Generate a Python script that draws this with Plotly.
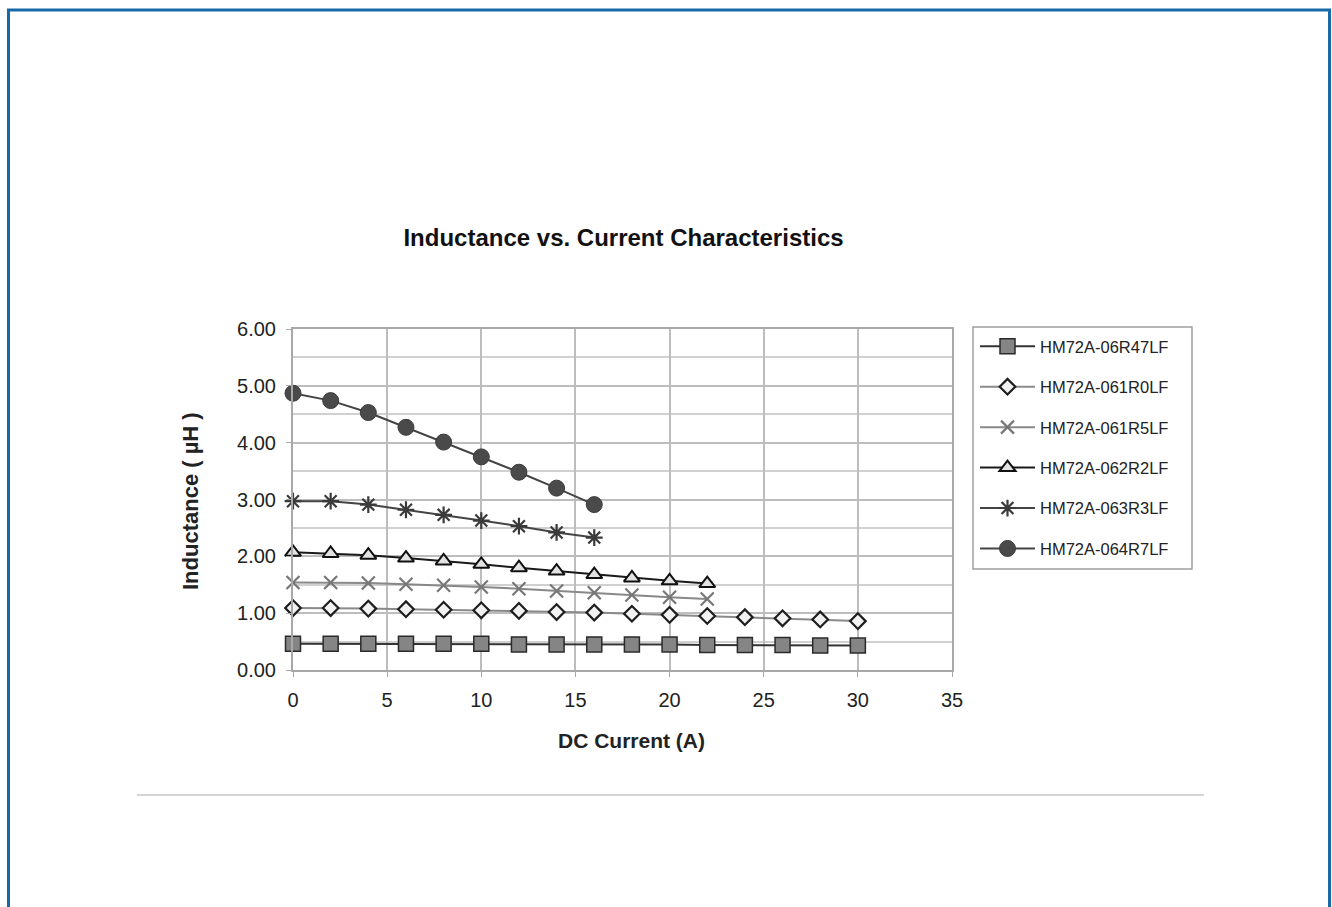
import plotly.graph_objects as go

# ---------------- data ----------------
current_a = [0, 2, 4, 6, 8, 10, 12, 14, 16, 18, 20, 22, 24, 26, 28, 30]

names = ["HM72A-06R47LF", "HM72A-061R0LF", "HM72A-061R5LF",
         "HM72A-062R2LF", "HM72A-063R3LF", "HM72A-064R7LF"]

l_06r47 = [0.46, 0.46, 0.46, 0.46, 0.46, 0.46, 0.45, 0.45, 0.45, 0.45, 0.45, 0.44, 0.44, 0.44, 0.43, 0.43]
l_061r0 = [1.09, 1.09, 1.08, 1.07, 1.06, 1.05, 1.04, 1.02, 1.01, 0.99, 0.97, 0.95, 0.93, 0.91, 0.89, 0.86]
l_061r5 = [1.54, 1.54, 1.53, 1.51, 1.49, 1.46, 1.43, 1.39, 1.36, 1.32, 1.28, 1.25]
l_062r2 = [2.07, 2.05, 2.02, 1.97, 1.92, 1.86, 1.80, 1.74, 1.68, 1.62, 1.57, 1.52]
l_063r3 = [2.97, 2.97, 2.91, 2.82, 2.73, 2.63, 2.53, 2.42, 2.33]
l_064r7 = [4.87, 4.74, 4.53, 4.27, 4.01, 3.75, 3.48, 3.20, 2.91]

title_text = "Inductance vs. Current Characteristics"
x_title = "DC Current (A)"
y_title = "Inductance ( µH )"

# ---------------- layout geometry (pixels) ----------------
W, H = 1332, 907
PL, PR, PT, PB = 293, 952, 329, 670   # plot-area edges


def px(xp):
    return (xp - PL) / (PR - PL)


def py(yp):
    return (PB - yp) / (PB - PT)


FONT = "Liberation Sans, Arial, sans-serif"

styles = [
    dict(line=dict(color="#333333", width=2),
         marker=dict(symbol="square", size=15, color="#858585",
                     line=dict(color="#2a2a2a", width=1.5))),
    dict(line=dict(color="#8a8a8a", width=2),
         marker=dict(symbol="diamond", size=12, color="#f2f2f2",
                     line=dict(color="#1e1e1e", width=2.2))),
    dict(line=dict(color="#888888", width=2),
         marker=dict(symbol="x-thin", size=13,
                     line=dict(color="#777777", width=2.2))),
    dict(line=dict(color="#1a1a1a", width=2),
         marker=dict(symbol="triangle-up", size=14, color="#e2e2e2",
                     line=dict(color="#111111", width=2))),
    dict(line=dict(color="#444444", width=2),
         marker=dict(symbol="asterisk", size=14,
                     line=dict(color="#3a3a3a", width=2.2))),
    dict(line=dict(color="#444444", width=2),
         marker=dict(symbol="circle", size=16, color="#4a4a4a",
                     line=dict(color="#3c3c3c", width=1))),
]

series = [l_06r47, l_061r0, l_061r5, l_062r2, l_063r3, l_064r7]

fig = go.Figure()
for name, vals, st in zip(names, series, styles):
    fig.add_trace(go.Scatter(
        x=current_a[:len(vals)], y=vals, name=name, mode="lines+markers",
        legendgroup=name, cliponaxis=False, **st))

grid_c = "#bdbdbd"
axis_c = "#a8a8a8"

fig.update_layout(
    width=W, height=H,
    margin=dict(l=PL, r=W - PR, t=PT, b=H - PB, pad=0),
    paper_bgcolor="white", plot_bgcolor="white",
    font=dict(family=FONT, color="#222222"),
    title=dict(text="<b>" + title_text + "</b>", x=623.5 / W, xanchor="center",
               y=1 - 238 / H, yanchor="middle",
               font=dict(family=FONT, size=24, color="#111111")),
    showlegend=True,
    legend=dict(x=px(975), y=py(329), xanchor="left", yanchor="top",
                bgcolor="rgba(0,0,0,0)", borderwidth=0,
                font=dict(family=FONT, size=16.5, color="#222222"),
                traceorder="grouped", tracegroupgap=16, itemwidth=55,
                valign="middle"),
    xaxis=dict(range=[0, 35], dtick=5, tick0=0, showgrid=True,
               gridcolor=grid_c, gridwidth=1.5, zeroline=False,
               showline=True, linecolor=axis_c, linewidth=2, mirror=True,
               ticks="outside", ticklen=5, tickcolor=axis_c,
               tickfont=dict(family=FONT, size=20, color="#222222"),
               ticklabelstandoff=6),
    yaxis=dict(range=[0, 6], dtick=1, tick0=0, tickformat=".2f",
               showgrid=True, gridcolor=grid_c, gridwidth=1.5, zeroline=False,
               minor=dict(dtick=0.5, showgrid=True, gridcolor="#d0d0d0",
                          gridwidth=1.5),
               showline=True, linecolor=axis_c, linewidth=2, mirror=True,
               ticks="outside", ticklen=5, tickcolor=axis_c,
               tickfont=dict(family=FONT, size=20, color="#222222"),
               ticklabelstandoff=6),
    annotations=[
        dict(text="<b>" + x_title + "</b>", xref="paper", yref="paper",
             x=px(631), y=py(740), xanchor="center", yanchor="middle",
             showarrow=False, font=dict(family=FONT, size=21, color="#222222")),
        dict(text="<b>" + y_title + "</b>", xref="paper", yref="paper",
             x=px(190), y=py(501), xanchor="center", yanchor="middle",
             textangle=-90, showarrow=False,
             font=dict(family=FONT, size=22, color="#222222")),
    ],
    shapes=[
        dict(type="rect", xref="paper", yref="paper",
             x0=px(8.5), x1=px(1329.5), y0=py(930), y1=py(10),
             line=dict(color="#1769aa", width=3), fillcolor="rgba(0,0,0,0)",
             layer="above"),
        dict(type="line", xref="paper", yref="paper",
             x0=px(137), x1=px(1204), y0=py(795), y1=py(795),
             line=dict(color="#d4d4d4", width=2)),
        dict(type="rect", xref="paper", yref="paper",
             x0=px(973), x1=px(1192), y0=py(569), y1=py(327),
             line=dict(color="#a0a0a0", width=1.5), fillcolor="white",
             layer="below"),
    ],
)

fig.write_html("out.html",
               config={"displayModeBar": False},
               post_script="document.body.style.margin='0';"
                           "document.body.style.overflow='hidden';")
